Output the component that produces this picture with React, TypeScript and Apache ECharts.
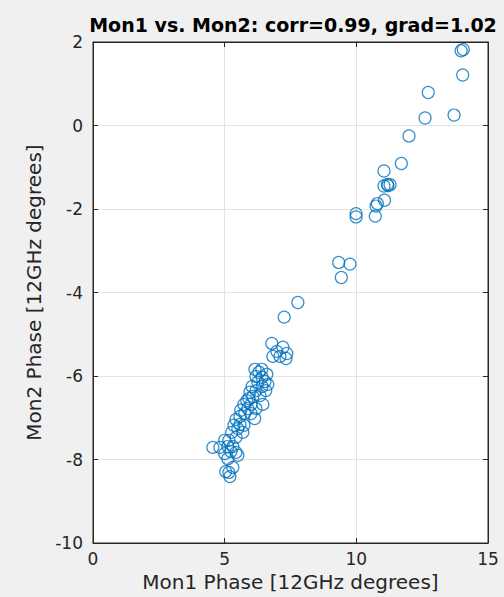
import React, { useEffect, useRef } from "react";
import * as echarts from "echarts";

const titleText = "Mon1 vs. Mon2: corr=0.99, grad=1.02";
const xAxisName = "Mon1 Phase [12GHz degrees]";
const yAxisName = "Mon2 Phase [12GHz degrees]";

const mon1Phase: number[] = [
  13.98, 14.06, 14.04, 12.73, 12.61, 13.71, 12.0, 11.71, 11.05, 11.05, 11.18, 11.28, 11.2,
  11.07, 10.8, 10.75, 10.72, 9.99, 9.99, 9.33, 9.76, 9.43, 7.78, 7.26,
  6.79, 7.21, 7.36, 7.33, 6.98, 6.83, 7.1, 6.15, 6.3, 6.19, 6.42, 6.53, 6.26, 6.04, 6.42,
  6.64, 6.19, 5.96, 6.07, 5.84, 5.73, 6.0, 6.45, 6.19, 5.88, 5.61, 5.76, 6.0, 6.14, 5.58,
  5.43, 5.35, 5.5, 5.69, 5.27, 5.43, 5.16, 5.12, 5.31, 5.24, 5.43, 5.5, 5.0, 4.82, 4.55,
  5.12, 5.31, 5.16, 5.2, 5.04, 5.92, 6.34, 6.6, 6.41, 6.56, 5.58, 5.73, 5.0,
];
const mon2Phase: number[] = [
  1.79, 1.82, 1.21, 0.79, 0.18, 0.25, -0.25, -0.91, -1.09, -1.45, -1.41, -1.42, -1.44,
  -1.79, -1.87, -1.93, -2.17, -2.11, -2.19, -3.28, -3.32, -3.64, -4.24, -4.59,
  -5.22, -5.31, -5.46, -5.58, -5.41, -5.53, -5.53, -5.84, -5.91, -6.01, -6.03, -6.13, -6.15,
  -6.25, -6.25, -6.2, -6.35, -6.39, -6.49, -6.59, -6.68, -6.68, -6.68, -6.78, -6.78, -6.82,
  -6.9, -6.9, -7.02, -6.97, -7.04, -7.18, -7.26, -7.35, -7.35, -7.47, -7.54, -7.69, -7.69,
  -7.81, -7.83, -7.9, -7.86, -7.71, -7.71, -7.98, -8.19, -8.31, -8.41, -8.29, -6.54, -6.47,
  -5.96, -5.84, -6.35, -7.16, -7.18, -7.54,
];

const FONT = "'DejaVu Sans', Verdana, sans-serif";
const AXIS_COLOR = "#262626";
const GRID_COLOR = "#e3e3e3";
const MARKER_COLOR = "#0072BD";

export default function App() {
  const ref = useRef<HTMLDivElement>(null);

  useEffect(() => {
    if (!ref.current) return;
    const chart = echarts.init(ref.current, undefined, { renderer: "svg" });
    const points = mon1Phase.map((x, i) => [x, mon2Phase[i]]);
    const tickCommon = {
      show: true,
      inside: true,
      length: 5,
      lineStyle: { color: AXIS_COLOR, width: 1 },
    };
    chart.setOption({
      animation: false,
      backgroundColor: "#f0f0f0",
      title: {
        text: titleText,
        left: 288,
        textAlign: "center",
        top: 10,
        textStyle: {
          fontFamily: FONT,
          fontWeight: "bold",
          fontSize: 19,
          color: "#000000",
        },
      },
      grid: {
        left: 93,
        right: 16,
        top: 42,
        bottom: 54,
        show: true,
        backgroundColor: "#ffffff",
        borderColor: AXIS_COLOR,
        borderWidth: 1,
      },
      xAxis: [
        {
          type: "value",
          min: 0,
          max: 15,
          interval: 5,
          name: xAxisName,
          nameLocation: "middle",
          nameGap: 28,
          nameTextStyle: { fontFamily: FONT, fontSize: 20, color: AXIS_COLOR },
          axisLine: { show: true, onZero: false, lineStyle: { color: AXIS_COLOR } },
          axisTick: tickCommon,
          axisLabel: { fontFamily: FONT, fontSize: 17, color: AXIS_COLOR, margin: 7 },
          splitLine: { show: true, lineStyle: { color: GRID_COLOR, width: 1 } },
        },
        {
          type: "value",
          position: "top",
          min: 0,
          max: 15,
          interval: 5,
          axisLine: { show: true, onZero: false, lineStyle: { color: AXIS_COLOR } },
          axisTick: tickCommon,
          axisLabel: { show: false },
          splitLine: { show: false },
        },
      ],
      yAxis: [
        {
          type: "value",
          min: -10,
          max: 2,
          interval: 2,
          name: yAxisName,
          nameLocation: "middle",
          nameGap: 49,
          nameTextStyle: { fontFamily: FONT, fontSize: 20, color: AXIS_COLOR },
          axisLine: { show: true, onZero: false, lineStyle: { color: AXIS_COLOR } },
          axisTick: tickCommon,
          axisLabel: { fontFamily: FONT, fontSize: 17, color: AXIS_COLOR, margin: 10 },
          splitLine: { show: true, lineStyle: { color: GRID_COLOR, width: 1 } },
        },
        {
          type: "value",
          position: "right",
          min: -10,
          max: 2,
          interval: 2,
          axisLine: { show: true, onZero: false, lineStyle: { color: AXIS_COLOR } },
          axisTick: tickCommon,
          axisLabel: { show: false },
          splitLine: { show: false },
        },
      ],
      series: [
        {
          type: "scatter",
          xAxisIndex: 0,
          yAxisIndex: 0,
          data: points,
          symbol: "circle",
          symbolSize: 12,
          itemStyle: {
            color: "rgba(0,0,0,0)",
            borderColor: MARKER_COLOR,
            borderWidth: 1.2,
          },
          emphasis: { disabled: true },
        },
      ],
    });
    return () => chart.dispose();
  }, []);

  return (
    <div
      ref={ref}
      style={{ position: "fixed", left: 0, top: 0, width: 504, height: 597 }}
    />
  );
}
